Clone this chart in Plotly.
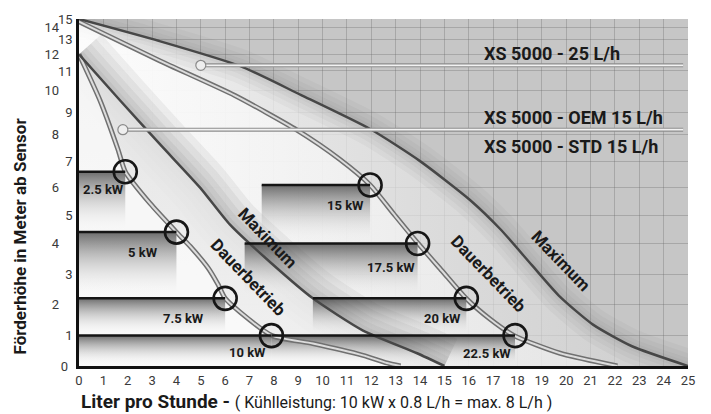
import numpy as np
import plotly.graph_objects as go

# ---------------- data ----------------
x_ticks = list(range(0, 26))
# printed (non-linear) height axis: metres and the height of their grid line above the x axis
y_tick_m = list(range(0, 16))
y_tick_h = [0, 31, 63, 93, 125, 154, 182, 209, 236, 259, 281, 301, 318, 333, 345, 354]

# XS 5000 - 25 L/h
max25_x = [0, 3.3, 6.6, 9.1, 11.95, 14.0, 16.05, 17.3, 18.6, 19.75, 21.1, 22.7, 25]
max25_y = [15, 12.9, 11.3, 9.8, 8.25, 7.0, 5.55, 4.5, 3.3, 2.25, 1.35, 0.65, 0]
dauer25_x = [0, 3.33, 6.4, 8.95, 10.7, 11.95, 12.93, 13.92, 14.9, 15.89, 16.87, 17.86, 19.75, 22.1]
dauer25_y = [14.7, 11.6, 9.77, 8.2, 7.07, 6.1, 5.03, 4.0, 3.13, 2.2, 1.53, 1.0, 0.42, 0]
# XS 5000 - 15 L/h
max15_x = [0, 1.68, 3.33, 4.97, 6.2, 7.84, 9.6, 11.66, 13.88, 15]
max15_y = [12, 9.55, 7.63, 6.0, 4.66, 3.41, 2.2, 1.16, 0.42, 0]
dauer15_x = [0, 0.86, 1.6, 1.9, 2.91, 4.0, 4.56, 5.3, 5.71, 6.0, 6.61, 7.92, 9.6, 11.66, 12.64, 13.2]
dauer15_y = [12, 9.55, 7.44, 6.6, 5.43, 4.4, 3.91, 3.22, 2.67, 2.2, 1.75, 1.0, 0.74, 0.35, 0.1, 0]

# operating points (cooling power)
kw_left = ["2.5 kW", "5 kW", "7.5 kW", "10 kW"]
op_left_x = [1.9, 4.0, 6.0, 7.9]
op_left_y = [6.6, 4.4, 2.2, 1.0]
start_left_x = [0, 0, 0, 0]
kw_left_lx = [0.99, 2.63, 4.31, 6.9]
kw_left_ly = [5.93, 3.72, 1.53, 0.45]

kw_right = ["15 kW", "17.5 kW", "20 kW", "22.5 kW"]
op_right_x = [11.95, 13.9, 15.9, 17.9]
op_right_y = [6.1, 4.0, 2.2, 1.0]
start_right_x = [7.5, 6.8, 9.6, 7.9]
kw_right_lx = [10.92, 12.81, 14.94, 16.75]
kw_right_ly = [5.36, 3.25, 1.56, 0.42]

# series labels
series_names = ["XS 5000 - 25 L/h", "XS 5000 - OEM 15 L/h", "XS 5000 - STD 15 L/h"]
series_label_x = [16.54, 16.54, 16.54]
series_label_y = [12.07, 8.74, 7.56]
leader_y = [11.34, 8.22]
leader_x0 = [5.0, 1.8]
leader_x1 = [24.8, 24.8]

curve_labels = ["Maximum", "Dauerbetrieb", "Dauerbetrieb", "Maximum"]
curve_label_x = [7.76, 6.94, 16.83, 19.8]
curve_label_y = [4.21, 2.93, 3.03, 3.45]

# ---------------- helpers ----------------
def ys(m):
    return np.interp(m, y_tick_m, y_tick_h)

FONT = "Roboto, sans-serif"
SPL = dict(shape="spline", smoothing=0.6)

fig = go.Figure()

def line_trace(cx, cy, color, width, spline=True):
    ln = dict(color=color, width=width)
    if spline:
        ln.update(SPL)
    fig.add_trace(go.Scatter(x=cx, y=ys(cy), mode="lines", line=ln, hoverinfo="skip", showlegend=False))

def soft_shadow(cx, cy, widths, alpha):
    for w in widths:
        line_trace(cx, cy, f"rgba(60,60,60,{alpha})", w)

# background shading regions
fig.add_trace(go.Scatter(x=max25_x, y=ys(max25_y), mode="lines", line=dict(width=0, **SPL),
                         fill="tozeroy",
                         fillgradient=dict(type="horizontal",
                                           colorscale=[[0, "rgba(252,252,252,0.85)"], [1, "rgba(214,214,214,0.55)"]]),
                         hoverinfo="skip", showlegend=False))
soft_shadow(max25_x, max25_y, [34, 24, 15, 8], 0.045)
fig.add_trace(go.Scatter(x=dauer25_x, y=ys(dauer25_y), mode="lines", line=dict(width=0, **SPL),
                         fill="tozeroy",
                         fillgradient=dict(type="horizontal",
                                           colorscale=[[0, "rgba(255,255,255,0.75)"], [1, "rgba(238,238,238,0.65)"]]),
                         hoverinfo="skip", showlegend=False))
soft_shadow(max15_x, max15_y, [60, 46, 32, 20, 10], 0.065)
fig.add_trace(go.Scatter(x=max15_x, y=ys(max15_y), mode="lines", line=dict(width=0, **SPL),
                         fill="tozeroy",
                         fillgradient=dict(type="vertical",
                                           colorscale=[[0, "rgba(240,240,240,0.85)"], [1, "rgba(225,225,225,0.85)"]]),
                         hoverinfo="skip", showlegend=False))
fig.add_trace(go.Scatter(x=dauer15_x, y=ys(dauer15_y), mode="lines", line=dict(width=0, **SPL),
                         fill="tozeroy", fillcolor="rgba(255,255,255,0.6)",
                         hoverinfo="skip", showlegend=False))

# bands under operating lines
def band(x0, x1, ytop, ybot):
    fig.add_trace(go.Scatter(x=[x0, x1, x1, x0, x0], y=[ys(ytop), ys(ytop), ys(ybot), ys(ybot), ys(ytop)],
                             mode="lines", line=dict(width=0), fill="toself",
                             fillgradient=dict(type="vertical",
                                               colorscale=[[0, "rgba(255,255,255,0)"], [1, "rgba(50,50,50,0.7)"]]),
                             hoverinfo="skip", showlegend=False))

for xs_, xe_, yv in ((start_left_x, op_left_x, op_left_y), (start_right_x, op_right_x, op_right_y)):
    for i in range(len(yv)):
        nxt = yv[i + 1] if i + 1 < len(yv) else 0
        band(xs_[i], xe_[i], yv[i], nxt)

# curves
for cx, cy in ((dauer25_x, dauer25_y), (dauer15_x, dauer15_y)):
    line_trace(cx, cy, "#707070", 5)
    line_trace(cx, cy, "#dcdcdc", 2)
for cx, cy in ((max25_x, max25_y), (max15_x, max15_y)):
    line_trace(cx, cy, "#474747", 2.5)

# operating lines
for xs_, xe_, yv in ((start_left_x, op_left_x, op_left_y), (start_right_x, op_right_x, op_right_y)):
    for i in range(len(yv)):
        line_trace([xs_[i], xe_[i]], [yv[i]] * 2, "#151515", 2.5, spline=False)

# leader lines for series names
for i in range(len(leader_y)):
    line_trace([leader_x0[i], leader_x1[i]], [leader_y[i]] * 2, "#8c8c8c", 4, spline=False)
    line_trace([leader_x0[i], leader_x1[i]], [leader_y[i]] * 2, "#f2f2f2", 1.8, spline=False)
fig.add_trace(go.Scatter(x=leader_x0, y=ys(leader_y), mode="markers",
                         marker=dict(size=10, color="#eeeeee", line=dict(color="#8a8a8a", width=1.2)),
                         hoverinfo="skip", showlegend=False))

# operating point circles
fig.add_trace(go.Scatter(x=op_left_x + op_right_x, y=ys(op_left_y + op_right_y), mode="markers",
                         marker=dict(symbol="circle-open", size=23, color="#161616", line=dict(width=2.6)),
                         hoverinfo="skip", showlegend=False))

annotations = []
for txt, x, y in zip(kw_left + kw_right, kw_left_lx + kw_right_lx, kw_left_ly + kw_right_ly):
    annotations.append(dict(x=x, y=float(ys(y)), text=f"<b>{txt}</b>", showarrow=False,
                            font=dict(family=FONT, size=13, color="#1a1a1a")))
for txt, x, y in zip(series_names, series_label_x, series_label_y):
    annotations.append(dict(x=x, y=float(ys(y)), text=f"<b>{txt}</b>", showarrow=False, xanchor="left",
                            font=dict(family=FONT, size=18, color="#1a1a1a")))
for txt, x, y in zip(curve_labels, curve_label_x, curve_label_y):
    annotations.append(dict(x=x, y=float(ys(y)), text=f"<b>{txt}</b>", showarrow=False, textangle=46,
                            font=dict(family=FONT, size=17, color="#1a1a1a")))
annotations.append(dict(xref="paper", yref="paper", x=-0.0969, y=0.376, xanchor="center", yanchor="middle",
                        textangle=-90, showarrow=False,
                        text="<b>Förderhöhe in Meter ab Sensor</b>",
                        font=dict(family=FONT, size=17, color="#1a1a1a")))
annotations.append(dict(xref="paper", yref="paper", x=0.0, y=-0.102, xanchor="left", yanchor="middle",
                        showarrow=False,
                        text="<b>Liter pro Stunde - </b><span style='font-size:16px'>"
                             "( Kühlleistung: 10 kW x 0.8 L/h = max. 8 L/h )</span>",
                        font=dict(family=FONT, size=19, color="#1a1a1a")))

grid_col = "rgba(110,110,110,0.35)"
tick_font = dict(family=FONT, size=13, color="#3a3a3a")
even_m = [m for m in y_tick_m if m % 2 == 0 and m > 0]
# the page body has an 8px margin, so the figure is 703x406 to fill the 711x414 window
fig.update_layout(
    width=703, height=406,
    margin=dict(l=71, r=23, t=4, b=48),
    paper_bgcolor="white", plot_bgcolor="#c6c6c6",
    showlegend=False,
    annotations=annotations,
    xaxis=dict(range=[0, 25], tickvals=x_ticks, ticktext=[str(v) for v in x_ticks],
               showgrid=True, gridcolor=grid_col, gridwidth=1.4, zeroline=False,
               showline=True, linecolor="#111111", linewidth=3, ticks="",
               tickfont=tick_font),
    yaxis=dict(range=[0, y_tick_h[-1]], tickvals=y_tick_h,
               ticktext=[str(m) if m % 2 == 1 else "" for m in y_tick_m],
               showgrid=True, gridcolor=grid_col, gridwidth=1.4, zeroline=False,
               showline=True, linecolor="#111111", linewidth=2.5, ticks="", ticklabelstandoff=1,
               ticklabeloverflow="allow", tickfont=tick_font),
    yaxis2=dict(range=[0, y_tick_h[-1]], overlaying="y", side="left", tickvals=list(ys(even_m)),
                ticktext=[str(m) for m in even_m], showgrid=False, zeroline=False,
                showline=False, ticks="", ticklabelstandoff=19, ticklabeloverflow="allow",
                tickfont=tick_font),
    yaxis3=dict(range=[0, y_tick_h[-1]], overlaying="y", side="left", tickvals=[y_tick_h[0]],
                ticktext=[str(y_tick_m[0])], showgrid=False, zeroline=False,
                showline=False, ticks="", ticklabelstandoff=10, ticklabeloverflow="allow",
                tickfont=tick_font),
)
fig.add_trace(go.Scatter(x=[None], y=[None], yaxis="y2", showlegend=False, hoverinfo="skip"))
fig.add_trace(go.Scatter(x=[None], y=[None], yaxis="y3", showlegend=False, hoverinfo="skip"))

fig.write_html("out.html")
